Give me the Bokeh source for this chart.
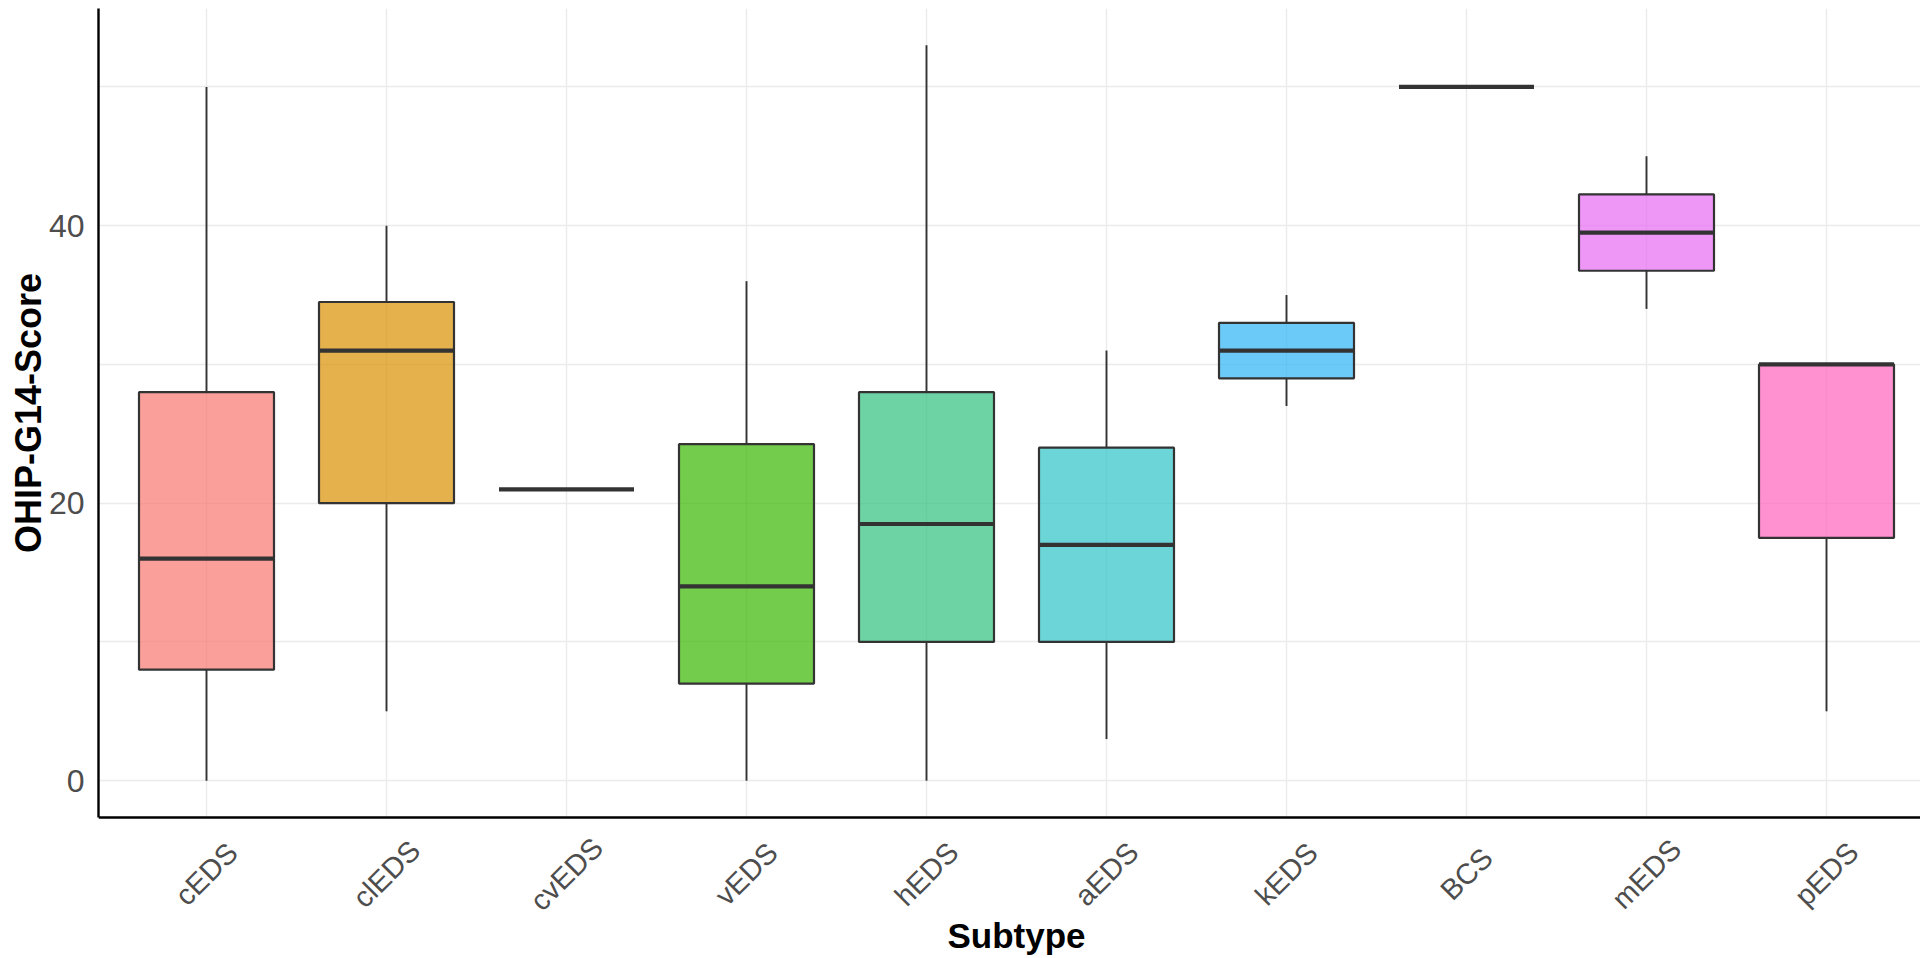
import math
from bokeh.plotting import figure
from bokeh.models import FixedTicker, Range1d, Title
from bokeh.core.properties import value
from bokeh.embed import file_html
from bokeh.resources import INLINE

# ---- data ----
subtypes = ["cEDS", "clEDS", "cvEDS", "vEDS", "hEDS", "aEDS", "kEDS", "BCS", "mEDS", "pEDS"]
whisker_low = [0, 5, 21, 0, 0, 3, 27, 50, 34, 5]
q1 = [8, 20, 21, 7, 10, 10, 29, 50, 36.75, 17.5]
median = [16, 31, 21, 14, 18.5, 17, 31, 50, 39.5, 30]
q3 = [28, 34.5, 21, 24.25, 28, 24, 33, 50, 42.25, 30]
whisker_high = [50, 40, 21, 36, 53, 31, 35, 50, 45, 30]
colors = ["#F8766D", "#D89000", "#A3A500", "#39B600", "#31C07D",
          "#2CC3C7", "#2EB3F6", "#9590FF", "#E76BF3", "#FF62BC"]
y_ticks = [0, 20, 40]
y_minor_ticks = [10, 30, 50]
x_title = "Subtype"
y_title = "OHIP-G14-Score"

# ---- layout ----
W, H = 1920, 956
LEFT, TOP = 98, 8
FRAME_W, FRAME_H = W - LEFT, H - TOP
Y0, Y1 = -2.65, 55.65            # panel (axis) extent in data units
PX_PER_Y = 13.876                # vertical scale, px per unit
YB = Y1 - FRAME_H / PX_PER_Y     # frame extends below the axis to host labels
X0 = 0.4
PX_PER_X = 180.0
X1 = X0 + FRAME_W / PX_PER_X
HALF = 0.375
xs = [i + 1 for i in range(len(subtypes))]
panel_h = (Y1 - Y0) * PX_PER_Y
y_title_len = 280                 # approx. rendered length of the y title
title_offset = (Y0 - YB) * PX_PER_Y + (panel_h - y_title_len) / 2

p = figure(width=W, height=H, output_backend="svg", toolbar_location=None,
           x_range=Range1d(X0, X1), y_range=Range1d(YB, Y1),
           min_border_left=LEFT, min_border_right=0, min_border_top=TOP, min_border_bottom=0)
p.outline_line_color = None
p.background_fill_color = "white"
p.border_fill_color = "white"

# y axis
p.yaxis.ticker = FixedTicker(ticks=y_ticks, minor_ticks=y_minor_ticks)
p.yaxis.bounds = (Y0, Y1)
p.yaxis.axis_line_color = "black"
p.yaxis.axis_line_width = 2.4
p.yaxis.major_tick_line_color = None
p.yaxis.minor_tick_line_color = None
p.yaxis.major_tick_out = 0
p.yaxis.major_tick_in = 0
p.yaxis.major_label_text_font = "Liberation Sans"
p.yaxis.major_label_text_font_size = "32px"
p.yaxis.major_label_text_color = "#4D4D4D"
p.yaxis.major_label_standoff = 10

p.add_layout(Title(text=y_title, align="left", offset=title_offset, standoff=-7,
                   text_font="Liberation Sans", text_font_size="36px",
                   text_font_style="bold", text_color="black"), "left")

# x axis: line at the bottom of the panel area
p.xaxis.fixed_location = Y0
p.xaxis.ticker = FixedTicker(ticks=[])
p.xaxis.axis_line_color = "black"
p.xaxis.axis_line_width = 2.4
p.xaxis.major_tick_line_color = None
p.xaxis.minor_tick_line_color = None

# grid
p.xgrid.visible = False
p.ygrid.ticker = FixedTicker(ticks=y_ticks, minor_ticks=y_minor_ticks)
p.ygrid.grid_line_color = "#EBEBEB"
p.ygrid.grid_line_width = 1.4
p.ygrid.minor_grid_line_color = "#EBEBEB"
p.ygrid.minor_grid_line_width = 1.4
p.segment(x0=xs, y0=[Y0] * len(xs), x1=xs, y1=[Y1] * len(xs),
          line_color="#EBEBEB", line_width=1.4, level="underlay")

# whiskers
p.segment(x0=xs, y0=q3, x1=xs, y1=whisker_high, line_color="#333333", line_width=1.9)
p.segment(x0=xs, y0=whisker_low, x1=xs, y1=q1, line_color="#333333", line_width=1.9)
# boxes
p.quad(left=[x - HALF for x in xs], right=[x + HALF for x in xs], bottom=q1, top=q3,
       fill_color=colors, fill_alpha=0.7, line_color="#333333", line_width=2.2)
# medians
p.segment(x0=[x - HALF for x in xs], y0=median, x1=[x + HALF for x in xs], y1=median,
          line_color="#333333", line_width=4.2)

# category labels (rotated 45 deg, centred under each category)
label_y = Y0 - 56.5 / PX_PER_Y
p.text(x=xs, y=[label_y] * len(xs), text=subtypes, angle=math.pi / 4,
       text_align="center", text_baseline="middle",
       text_font=value("Liberation Sans"), text_font_size=value("29px"),
       text_color="#4D4D4D")

# x axis title
title_y = Y0 - 118 / PX_PER_Y
p.text(x=[(X0 + 10.6) / 2], y=[title_y], text=[x_title], text_align="center",
       text_baseline="middle", text_font=value("Liberation Sans"),
       text_font_size=value("35px"), text_font_style="bold", text_color="black")

open("out.html", "w").write(file_html(p, INLINE))
